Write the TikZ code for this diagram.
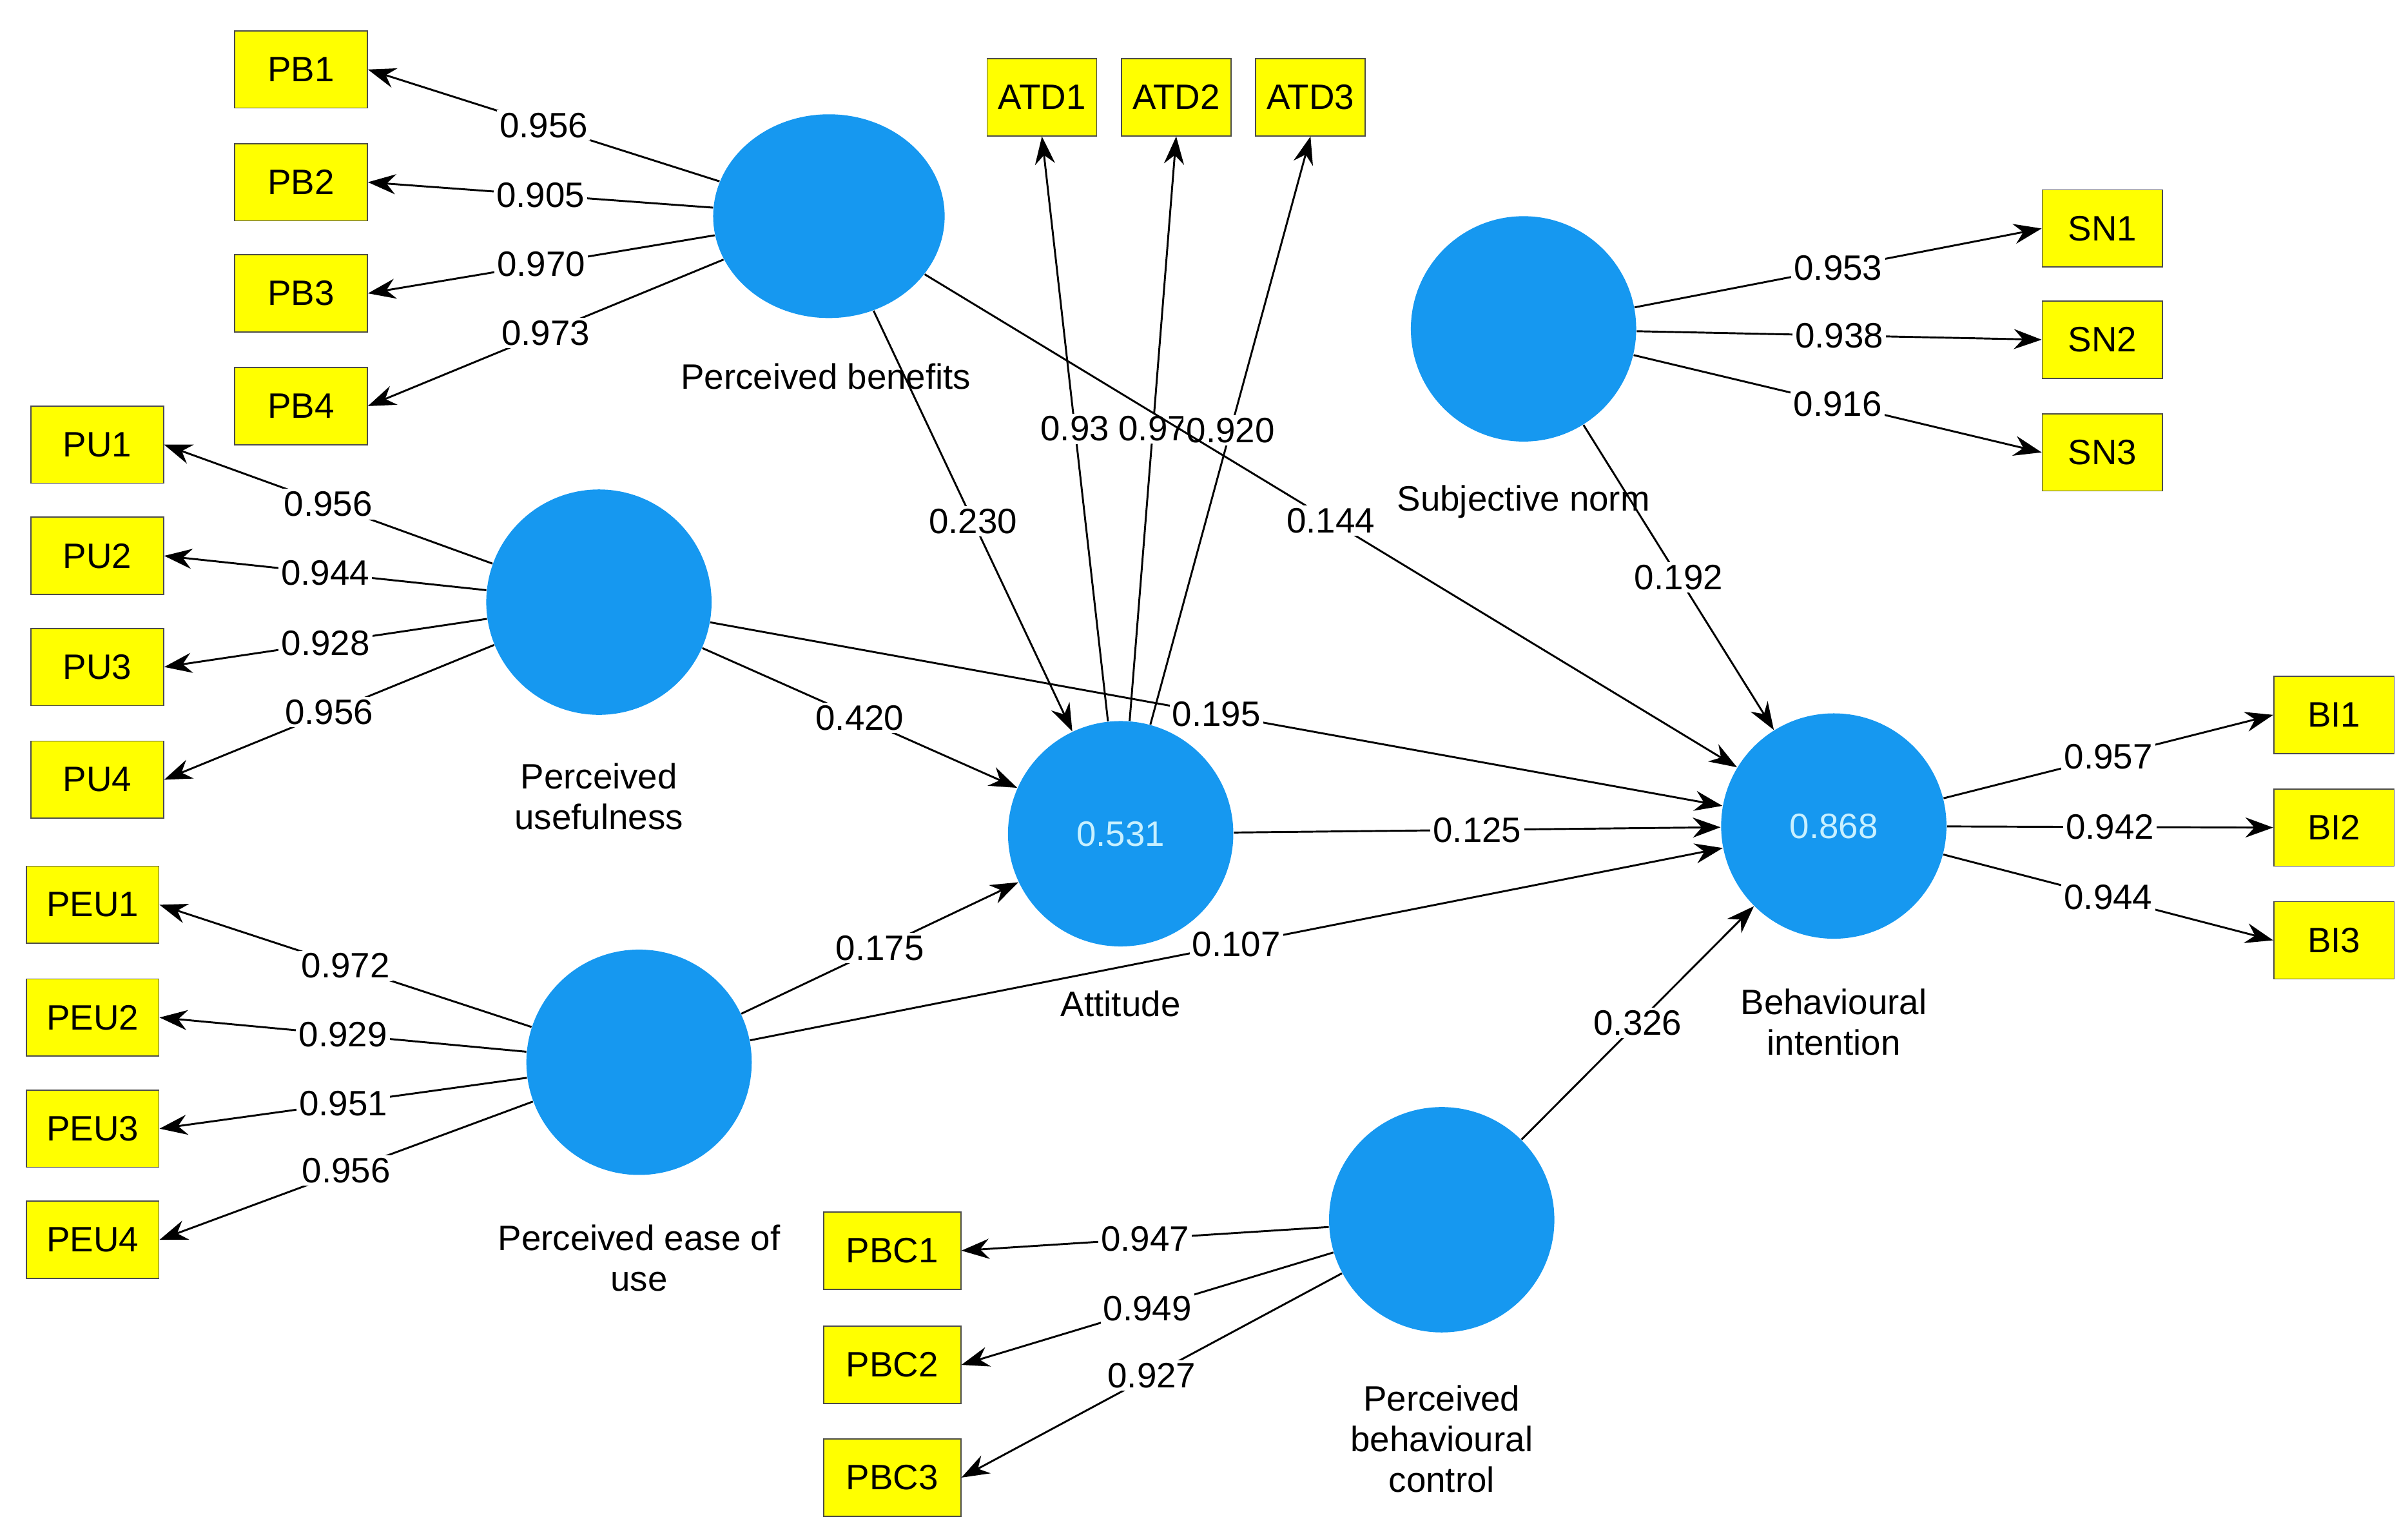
\documentclass[tikz,border=0pt]{standalone}
\usepackage{fontspec}
\setmainfont{Liberation Sans}
\usetikzlibrary{arrows.meta,shapes.geometric}
\definecolor{lv}{RGB}{22,152,240}
\definecolor{ind}{RGB}{255,255,0}
\definecolor{rtxt}{RGB}{200,240,255}
\begin{document}
\begin{tikzpicture}[x=0.02cm,y=-0.02cm,
  font=\fontsize{13}{15}\selectfont,
  lat/.style={circle,fill=lv,minimum size=2.92cm,inner sep=0pt,text=rtxt},
  box/.style={draw=black!70,fill=ind,minimum width=1.72cm,minimum height=1cm,inner sep=1pt},
  lab/.style={align=center},
  arr/.style={-{Stealth[length=0.36cm,width=0.26cm]},line width=0.7pt},
  val/.style={fill=white,inner sep=1pt,pos=0.5}]
\useasboundingbox (0,0) rectangle (1560,988);
% latent variables
\node[ellipse,fill=lv,minimum width=3cm,minimum height=2.64cm,inner sep=0pt] (pb) at (537,140) {};
\node[lat] (pu) at (388,390) {};
\node[lat] (peu) at (414,688) {};
\node[lat] (att) at (726,540) {0.531};
\node[lat] (bi) at (1188,535) {0.868};
\node[lat] (sn) at (987,213) {};
\node[lat] (pbc) at (934,790) {};
% labels
\node[lab] (lpb) at (535,244) {Perceived benefits};
\node[lab] (lpu) at (388,516) {Perceived\\usefulness};
\node[lab] (lpeu) at (414,815) {Perceived ease of\\use};
\node[lab] (latt) at (726,650) {Attitude};
\node[lab] (lbi) at (1188,662) {Behavioural\\intention};
\node[lab] (lsn) at (987,325) {Subjective norm};
\node[lab] (lpbc) at (934,932) {Perceived\\behavioural\\control};
% indicators
\node[box] (pb1) at (195,45) {PB1};
\node[box] (pb2) at (195,118) {PB2};
\node[box] (pb3) at (195,190) {PB3};
\node[box] (pb4) at (195,263) {PB4};
\node[box] (pu1) at (63,288) {PU1};
\node[box] (pu2) at (63,360) {PU2};
\node[box] (pu3) at (63,432) {PU3};
\node[box] (pu4) at (63,505) {PU4};
\node[box] (peu1) at (60,586) {PEU1};
\node[box] (peu2) at (60,659) {PEU2};
\node[box] (peu3) at (60,731) {PEU3};
\node[box] (peu4) at (60,803) {PEU4};
\node[box,minimum width=1.42cm] (atd1) at (675,63) {ATD1};
\node[box,minimum width=1.42cm] (atd2) at (762,63) {ATD2};
\node[box,minimum width=1.42cm] (atd3) at (849,63) {ATD3};
\node[box,minimum width=1.56cm] (sn1) at (1362,148) {SN1};
\node[box,minimum width=1.56cm] (sn2) at (1362,220) {SN2};
\node[box,minimum width=1.56cm] (sn3) at (1362,293) {SN3};
\node[box,minimum width=1.56cm] (bi1) at (1512,463) {BI1};
\node[box,minimum width=1.56cm] (bi2) at (1512,536) {BI2};
\node[box,minimum width=1.56cm] (bi3) at (1512,609) {BI3};
\node[box,minimum width=1.78cm] (pbc1) at (578,810) {PBC1};
\node[box,minimum width=1.78cm] (pbc2) at (578,884) {PBC2};
\node[box,minimum width=1.78cm] (pbc3) at (578,957) {PBC3};
% loadings
\draw[arr] (pb) -- (pb1.east) node[val]{0.956};
\draw[arr] (pb) -- (pb2.east) node[val]{0.905};
\draw[arr] (pb) -- (pb3.east) node[val]{0.970};
\draw[arr] (pb) -- (pb4.east) node[val]{0.973};
\draw[arr] (pu) -- (pu1.east) node[val]{0.956};
\draw[arr] (pu) -- (pu2.east) node[val]{0.944};
\draw[arr] (pu) -- (pu3.east) node[val]{0.928};
\draw[arr] (pu) -- (pu4.east) node[val]{0.956};
\draw[arr] (peu) -- (peu1.east) node[val]{0.972};
\draw[arr] (peu) -- (peu2.east) node[val]{0.929};
\draw[arr] (peu) -- (peu3.east) node[val]{0.951};
\draw[arr] (peu) -- (peu4.east) node[val]{0.956};
\draw[arr] (att) -- (atd1.south) node[val]{0.93};
\draw[arr] (att) -- (atd2.south) node[val]{0.97};
\draw[arr] (att) -- (atd3.south) node[val]{0.920};
\draw[arr] (sn) -- (sn1.west) node[val]{0.953};
\draw[arr] (sn) -- (sn2.west) node[val]{0.938};
\draw[arr] (sn) -- (sn3.west) node[val]{0.916};
\draw[arr] (bi) -- (bi1.west) node[val]{0.957};
\draw[arr] (bi) -- (bi2.west) node[val]{0.942};
\draw[arr] (bi) -- (bi3.west) node[val]{0.944};
\draw[arr] (pbc) -- (pbc1.east) node[val]{0.947};
\draw[arr] (pbc) -- (pbc2.east) node[val]{0.949};
\draw[arr] (pbc) -- (pbc3.east) node[val]{0.927};
% structural paths
\draw[arr] (pb) -- (att) node[val]{0.230};
\draw[arr] (pb) -- (bi) node[val]{0.144};
\draw[arr] (pu) -- (att) node[val]{0.420};
\draw[arr] (pu) -- (bi) node[val]{0.195};
\draw[arr] (peu) -- (att) node[val]{0.175};
\draw[arr] (peu) -- (bi) node[val]{0.107};
\draw[arr] (att) -- (bi) node[val]{0.125};
\draw[arr] (sn) -- (bi) node[val]{0.192};
\draw[arr] (pbc) -- (bi) node[val]{0.326};
\end{tikzpicture}
\end{document}
